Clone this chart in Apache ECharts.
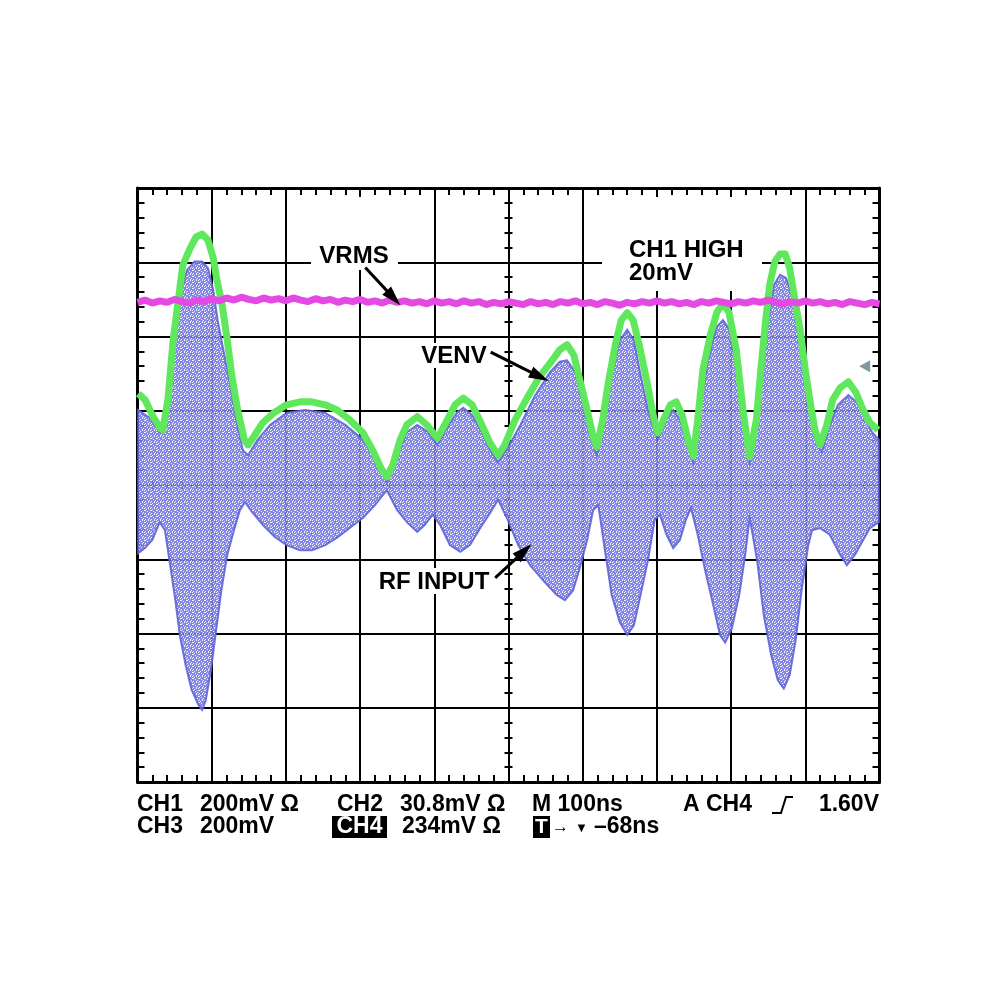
<!DOCTYPE html>
<html><head><meta charset="utf-8">
<script src="https://cdn.jsdelivr.net/npm/echarts@6/dist/echarts.min.js"></script>
<style>html,body{margin:0;padding:0;background:#fff}#c{width:990px;height:990px}</style>
</head><body><div id="c"></div>
<script>
// time axis: ns relative to screen centre (100 ns/div); vertical: divisions
const VRMS_X = [-500,-490,-480,-470,-460,-450,-440,-430,-420,-410,-400,-390,-380,-370,-360,-350,-340,-330,-320,-310,-300,-290,-280,-270,-260,-250,-240,-230,-220,-210,-200,-190,-180,-170,-160,-150,-140,-130,-120,-110,-100,-90,-80,-70,-60,-50,-40,-30,-20,-10,0,10,20,30,40,50,60,70,80,90,100,110,120,130,140,150,160,170,180,190,200,210,220,230,240,250,260,270,280,290,300,310,320,330,340,350,360,370,380,390,400,410,420,430,440,450,460,470,480,490,500];
const VRMS_Y = [2.46,2.49,2.45,2.48,2.46,2.50,2.47,2.45,2.49,2.47,2.51,2.48,2.52,2.49,2.53,2.50,2.48,2.52,2.49,2.51,2.48,2.52,2.49,2.47,2.51,2.48,2.50,2.46,2.49,2.47,2.50,2.46,2.48,2.45,2.49,2.46,2.48,2.45,2.47,2.44,2.48,2.45,2.47,2.44,2.48,2.45,2.47,2.43,2.46,2.44,2.47,2.45,2.43,2.47,2.44,2.46,2.43,2.47,2.45,2.48,2.44,2.46,2.43,2.47,2.45,2.42,2.46,2.44,2.47,2.45,2.48,2.45,2.47,2.44,2.46,2.43,2.47,2.45,2.48,2.46,2.44,2.47,2.45,2.48,2.46,2.49,2.46,2.44,2.47,2.45,2.48,2.45,2.47,2.44,2.46,2.43,2.47,2.45,2.43,2.46,2.44];

const VENV_X = [-499,-490,-480,-470,-466,-459,-452,-445,-439,-429,-421,-413,-405,-398,-393,-386,-379,-373,-365,-356,-351,-342,-331,-315,-299,-281,-265,-247,-231,-214,-196,-183,-172,-164,-156,-146,-137,-123,-110,-96,-86,-72,-61,-49,-36,-25,-14,-5,9,25,42,59,69,79,88,96,106,114,119,127,134,144,152,160,168,177,187,195,201,210,218,226,234,242,249,255,262,272,281,289,297,307,316,325,334,340,346,352,359,366,373,379,386,393,400,406,413,420,429,437,447,458,468,478,487,498];
const VENV_Y = [1.23,1.15,0.94,0.77,0.74,1.15,1.95,2.49,2.96,3.19,3.34,3.38,3.30,3.06,2.76,2.43,1.95,1.48,1.01,0.61,0.54,0.67,0.84,0.98,1.08,1.12,1.12,1.08,1.01,0.88,0.70,0.47,0.23,0.11,0.27,0.61,0.81,0.92,0.81,0.63,0.81,1.08,1.17,1.08,0.81,0.57,0.40,0.54,0.88,1.17,1.46,1.68,1.82,1.89,1.75,1.42,1.01,0.65,0.51,0.88,1.35,1.89,2.22,2.32,2.22,1.85,1.37,0.94,0.70,0.90,1.08,1.12,0.94,0.61,0.39,0.88,1.55,2.02,2.33,2.44,2.33,1.82,1.01,0.38,0.88,1.55,2.16,2.70,3.01,3.11,3.11,2.92,2.49,2.09,1.55,1.15,0.74,0.54,0.81,1.15,1.31,1.39,1.25,1.01,0.84,0.74];

const RF_UP_X = [-499,-483,-470,-463,-456,-449,-441,-433,-423,-413,-405,-398,-392,-383,-375,-367,-358,-351,-338,-321,-299,-274,-247,-220,-196,-180,-164,-150,-137,-123,-108,-96,-83,-69,-61,-49,-36,-25,-14,-1,16,36,56,69,79,90,99,110,119,130,139,150,160,169,178,188,201,212,222,231,242,249,258,269,280,289,298,308,317,325,335,343,350,358,366,374,382,390,398,406,417,422,433,444,458,470,481,490,499];
const RF_UP_Y = [1.01,0.90,0.71,0.81,1.42,2.09,2.63,2.90,3.01,3.01,2.92,2.63,2.22,1.75,1.35,0.88,0.47,0.40,0.61,0.81,0.97,1.01,0.97,0.81,0.61,0.36,0.04,0.40,0.71,0.81,0.71,0.54,0.77,0.98,1.04,0.94,0.71,0.47,0.31,0.50,0.81,1.21,1.52,1.66,1.68,1.52,1.15,0.67,0.40,0.88,1.48,1.95,2.09,1.95,1.48,1.01,0.61,0.88,1.01,0.88,0.54,0.31,1.01,1.68,2.12,2.22,2.09,1.55,0.88,0.31,0.81,1.55,2.22,2.70,2.83,2.79,2.56,2.09,1.48,1.01,0.54,0.44,0.81,1.08,1.21,1.11,0.88,0.71,0.61];

const RF_LO_X = [-499,-490,-480,-470,-463,-456,-449,-443,-435,-427,-418,-413,-408,-401,-394,-387,-379,-370,-362,-355,-346,-331,-315,-299,-281,-265,-247,-231,-214,-196,-180,-164,-150,-137,-123,-113,-102,-92,-79,-65,-52,-38,-25,-14,-1,13,29,49,65,76,87,96,106,114,121,130,139,150,160,169,178,188,197,204,213,222,231,239,246,255,265,276,285,292,301,311,319,325,335,344,354,363,371,379,387,395,404,409,420,433,447,456,467,478,487,499];
const RF_LO_Y = [-0.92,-0.85,-0.74,-0.50,-0.61,-1.08,-1.55,-2.02,-2.43,-2.76,-2.96,-3.03,-2.90,-2.49,-1.95,-1.42,-0.94,-0.61,-0.34,-0.23,-0.36,-0.54,-0.70,-0.81,-0.88,-0.88,-0.81,-0.71,-0.58,-0.44,-0.27,-0.07,-0.34,-0.50,-0.63,-0.54,-0.40,-0.54,-0.81,-0.90,-0.81,-0.58,-0.38,-0.20,-0.47,-0.81,-1.08,-1.31,-1.48,-1.55,-1.42,-1.12,-0.74,-0.34,-0.27,-0.88,-1.48,-1.85,-2.02,-1.89,-1.48,-1.01,-0.47,-0.40,-0.67,-0.85,-0.74,-0.47,-0.31,-0.67,-1.15,-1.62,-2.02,-2.12,-1.93,-1.48,-0.94,-0.44,-1.01,-1.75,-2.29,-2.63,-2.74,-2.56,-2.09,-1.42,-0.81,-0.61,-0.58,-0.67,-0.94,-1.08,-0.94,-0.74,-0.58,-0.50];

const TRIG_MARK = [[480, 1.60]];
const ARROWS = [
  [[-193, 2.93], [-155, 2.52]],
  [[-24, 1.79], [42, 1.46]],
  [[-18, -1.25], [21, -0.89]]
];

// speckle texture for the RF carrier band
const pc = document.createElement('canvas');
pc.width = 6; pc.height = 6;
const g = pc.getContext('2d');
g.fillStyle = '#777be0'; g.fillRect(0, 0, 6, 6);
g.fillStyle = '#f2f3ff';
[[0,0],[3,1],[1,3],[4,4],[5,2],[2,5],[1,0],[4,3],[0,4]].forEach(p => g.fillRect(p[0], p[1], 1, 1));
const bandFill = {image: pc, repeat: 'repeat'};

const chart = echarts.init(document.getElementById('c'));
const black = '#000';
const F = '"Liberation Sans", Arial, sans-serif';

function borderX(pos, split) {
  return {type:'value', min:-500, max:500, interval:100, position:pos,
    axisLine:{show:true, onZero:false, lineStyle:{color:black, width:3}},
    axisTick:{show:false, inside:true},
    minorTick:{show:true, splitNumber:5, length:7, lineStyle:{color:black, width:2}},
    axisLabel:{show:false}, splitLine:{show:split, lineStyle:{color:black, width:2}},
    minorSplitLine:{show:false}};
}
function borderY(pos, split) {
  return {type:'value', min:-4, max:4, interval:1, position:pos,
    axisLine:{show:true, onZero:false, lineStyle:{color:black, width:3}},
    axisTick:{show:false, inside:true},
    minorTick:{show:true, splitNumber:5, length:7, lineStyle:{color:black, width:2}},
    axisLabel:{show:false}, splitLine:{show:split, lineStyle:{color:black, width:2}},
    minorSplitLine:{show:false}};
}
function centreX(inside) {
  return {type:'value', min:-500, max:500, interval:20, position:'bottom',
    axisLine:{show:true, onZero:true, onZeroAxisIndex:0, lineStyle:{color:black, width:2}},
    axisTick:{show:true, inside:inside, length:4, lineStyle:{color:black, width:2}},
    axisLabel:{show:false}, splitLine:{show:false}};
}
function centreY(inside) {
  return {type:'value', min:-4, max:4, interval:0.2, position:'left',
    axisLine:{show:true, onZero:true, onZeroAxisIndex:0, lineStyle:{color:black, width:2}},
    axisTick:{show:true, inside:inside, length:4, lineStyle:{color:black, width:2}},
    axisLabel:{show:false}, splitLine:{show:false}};
}

function txt(x, y, s, size, align, color) {
  return {type:'text', x:x, y:y, z:10,
    style:{text:s, font:'bold ' + size + 'px ' + F, fill:color || black,
      align:align || 'left', verticalAlign:'middle'}};
}
function rect(x, y, w, h, fill, z) {
  return {type:'rect', z:z, shape:{x:x, y:y, width:w, height:h}, style:{fill:fill}};
}

const row1 = 805, row2 = 827;
const graphic = [
  rect(311, 197, 87, 73, '#fff', 1),
  rect(602, 197, 160, 94, '#fff', 1),
  rect(416, 343, 75, 25, '#fff', 1),
  rect(371, 568, 126, 26, '#fff', 1),
  txt(354, 256, 'VRMS', 24, 'center'),
  txt(629, 250, 'CH1 HIGH', 24),
  txt(629, 273, '20mV', 24),
  txt(454, 356, 'VENV', 24, 'center'),
  txt(434, 582, 'RF INPUT', 24, 'center'),
  txt(137, row1, 'CH1', 23), txt(200, row1, '200mV \u03A9', 23),
  txt(337, row1, 'CH2', 23), txt(400, row1, '30.8mV \u03A9', 23),
  txt(532, row1, 'M 100ns', 23),
  txt(683, row1, 'A CH4', 23),
  {type:'polyline', z:10, shape:{points:[[772,813],[781,813],[786,797],[793,797]]}, style:{stroke:black, lineWidth:2, fill:null}},
  txt(879, row1, '1.60V', 23, 'right'),
  txt(137, row2, 'CH3', 23), txt(200, row2, '200mV', 23),
  rect(332, 816, 55, 22, black, 10),
  txt(359.5, row2, 'CH4', 23, 'center', '#fff'),
  txt(402, row2, '234mV \u03A9', 23),
  rect(533, 816, 17, 22, black, 10),
  txt(541.5, row2, 'T', 21, 'center', '#fff'),
  txt(552, row2, '\u2192', 17),
  txt(575, row2 + 1, '\u25BC', 13),
  txt(594, row2, '\u201368ns', 23)
];

chart.setOption({
  animation: false,
  backgroundColor: '#fff',
  grid: {left:137.5, top:188, width:742, height:594, outerBoundsMode:'none', containLabel:false},
  xAxis: [borderX('bottom', true), borderX('top', false), centreX(true), centreX(false)],
  yAxis: [borderY('left', true), borderY('right', false), centreY(true), centreY(false)],
  graphic: graphic,
  series: [
    {
      name:'RF INPUT', type:'custom', xAxisIndex:0, yAxisIndex:0, z:2,
      data: RF_UP_X.map((x, i) => [x, RF_UP_Y[i]]),
      renderItem: function (params, api) {
        if (params.dataIndex !== 0) return null;
        const pts = [];
        for (let i = 0; i < RF_UP_X.length; i++) pts.push(api.coord([RF_UP_X[i], RF_UP_Y[i]]));
        for (let i = RF_LO_X.length - 1; i >= 0; i--) pts.push(api.coord([RF_LO_X[i], RF_LO_Y[i]]));
        return {type:'polygon', shape:{points:pts},
          style:{fill:bandFill, stroke:'#5f64d8', lineWidth:2, opacity:0.9}};
      }
    },
    {
      name:'VENV', type:'line', z:3, xAxisIndex:0, yAxisIndex:0,
      data: VENV_X.map((x, i) => [x, VENV_Y[i]]),
      showSymbol:false, symbol:'none', smooth:false,
      lineStyle:{color:'#5fe85c', width:7, join:'round'}
    },
    {
      name:'VRMS', type:'line', z:3, xAxisIndex:0, yAxisIndex:0,
      data: VRMS_X.map((x, i) => [x, VRMS_Y[i]]),
      showSymbol:false, symbol:'none',
      lineStyle:{color:'#e549e3', width:7},
      markLine: {
        silent:true, animation:false, symbol:['none','triangle'], symbolSize:[12, 20],
        label:{show:false}, lineStyle:{color:black, width:3, type:'solid'},
        data: ARROWS.map(a => [{coord:a[0]}, {coord:a[1]}])
      }
    },
    {
      name:'trigger', type:'scatter', z:4, xAxisIndex:0, yAxisIndex:0,
      data: TRIG_MARK, symbol:'triangle', symbolRotate:90, symbolSize:[12, 11],
      itemStyle:{color:'#5f7f86'}
    }
  ]
});
</script>
</body></html>
